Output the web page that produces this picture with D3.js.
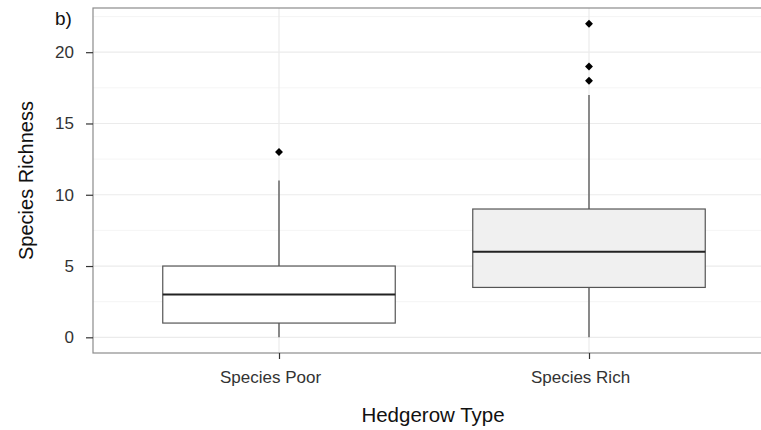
<!DOCTYPE html>
<html>
<head>
<meta charset="utf-8">
<script src="https://cdn.jsdelivr.net/npm/d3@7/dist/d3.min.js"></script>
<style>
  html, body { margin: 0; padding: 0; background: #fff; }
  svg { display: block; font-family: "Liberation Sans", Arial, sans-serif; }
</style>
</head>
<body>
<svg id="chart" width="761" height="430"></svg>
<script>
// Hedgerow types and their box-plot summaries
const categories = ["Species Poor", "Species Rich"];
const whiskerLow = [0, 0];
const q1 = [1, 3.5];
const median = [3, 6];
const q3 = [5, 9];
const whiskerHigh = [11, 17];
const outliers = [[13], [18, 19, 22]];
const boxFills = ["#ffffff", "#f0f0f0"];
const yTicks = [0, 5, 10, 15, 20];
const yMinor = [2.5, 7.5, 12.5, 17.5, 22.5];

const svg = d3.select("#chart");
const panel = { left: 93, top: 8, right: 775, bottom: 353 };

// discrete x: positions 1..n with 0.6 padding each side
const x = d3.scaleLinear().domain([0.4, categories.length + 0.6]).range([panel.left, panel.right]);
const y = d3.scaleLinear().domain([-1.1, 23.1]).range([panel.bottom, panel.top]);
const unit = x(2) - x(1);
const boxW = 0.75 * unit;

const g = svg.append("g");

// grid
g.selectAll(".minor").data(yMinor).join("line")
  .attr("x1", panel.left).attr("x2", panel.right)
  .attr("y1", d => y(d)).attr("y2", d => y(d))
  .attr("stroke", "#f2f2f2").attr("stroke-width", 0.8);
g.selectAll(".major").data(yTicks).join("line")
  .attr("x1", panel.left).attr("x2", panel.right)
  .attr("y1", d => y(d)).attr("y2", d => y(d))
  .attr("stroke", "#ebebeb").attr("stroke-width", 1.2);
g.selectAll(".vgrid").data(categories).join("line")
  .attr("x1", (d, i) => x(i + 1)).attr("x2", (d, i) => x(i + 1))
  .attr("y1", panel.top).attr("y2", panel.bottom)
  .attr("stroke", "#ebebeb").attr("stroke-width", 1.2);

// boxes
categories.forEach((c, i) => {
  const cx = x(i + 1);
  const bg = g.append("g");
  bg.append("line").attr("x1", cx).attr("x2", cx)
    .attr("y1", y(q3[i])).attr("y2", y(whiskerHigh[i]))
    .attr("stroke", "#444").attr("stroke-width", 1.2);
  bg.append("line").attr("x1", cx).attr("x2", cx)
    .attr("y1", y(q1[i])).attr("y2", y(whiskerLow[i]))
    .attr("stroke", "#444").attr("stroke-width", 1.2);
  bg.append("rect")
    .attr("x", cx - boxW / 2).attr("width", boxW)
    .attr("y", y(q3[i])).attr("height", y(q1[i]) - y(q3[i]))
    .attr("fill", boxFills[i]).attr("stroke", "#555").attr("stroke-width", 1.2);
  bg.append("line")
    .attr("x1", cx - boxW / 2).attr("x2", cx + boxW / 2)
    .attr("y1", y(median[i])).attr("y2", y(median[i]))
    .attr("stroke", "#222").attr("stroke-width", 2);
  bg.selectAll(".out").data(outliers[i]).join("path")
    .attr("d", d3.symbol(d3.symbolDiamond2, 40))
    .attr("transform", d => `translate(${cx},${y(d)})`)
    .attr("fill", "#000");
});

// panel border
g.append("rect")
  .attr("x", panel.left).attr("y", panel.top)
  .attr("width", panel.right - panel.left).attr("height", panel.bottom - panel.top)
  .attr("fill", "none").attr("stroke", "#8c8c8c").attr("stroke-width", 1.2);

// axes
const yAxis = d3.axisLeft(y).tickValues(yTicks).tickSize(7).tickPadding(12);
const ya = svg.append("g").attr("transform", `translate(${panel.left},0)`).call(yAxis);
ya.select(".domain").remove();
ya.selectAll(".tick line").attr("stroke", "#333").attr("stroke-width", 1.2);
ya.selectAll(".tick text").attr("fill", "#333").attr("font-size", 17)
  .attr("font-family", "Liberation Sans, Arial, sans-serif");

const xb = d3.scaleOrdinal().domain(categories).range(categories.map((c, i) => x(i + 1)));
const xAxis = d3.axisBottom(xb).tickSize(6).tickPadding(12);
const xa = svg.append("g").attr("transform", `translate(0,${panel.bottom})`).call(xAxis);
xa.select(".domain").remove();
xa.selectAll(".tick line").attr("stroke", "#333").attr("stroke-width", 1.2);
xa.selectAll(".tick text").attr("fill", "#333").attr("font-size", 17).attr("dx", -9)
  .attr("font-family", "Liberation Sans, Arial, sans-serif");

// titles
svg.append("text").attr("x", 433).attr("y", 422).attr("text-anchor", "middle")
  .attr("font-size", 20.5).attr("fill", "#111").text("Hedgerow Type");
svg.append("text").attr("transform", `translate(33,${(panel.top + panel.bottom) / 2}) rotate(-90)`)
  .attr("text-anchor", "middle").attr("font-size", 20).attr("fill", "#111").text("Species Richness");
svg.append("text").attr("x", 55).attr("y", 25).attr("font-size", 19).attr("fill", "#111").text("b)");
</script>
</body>
</html>
